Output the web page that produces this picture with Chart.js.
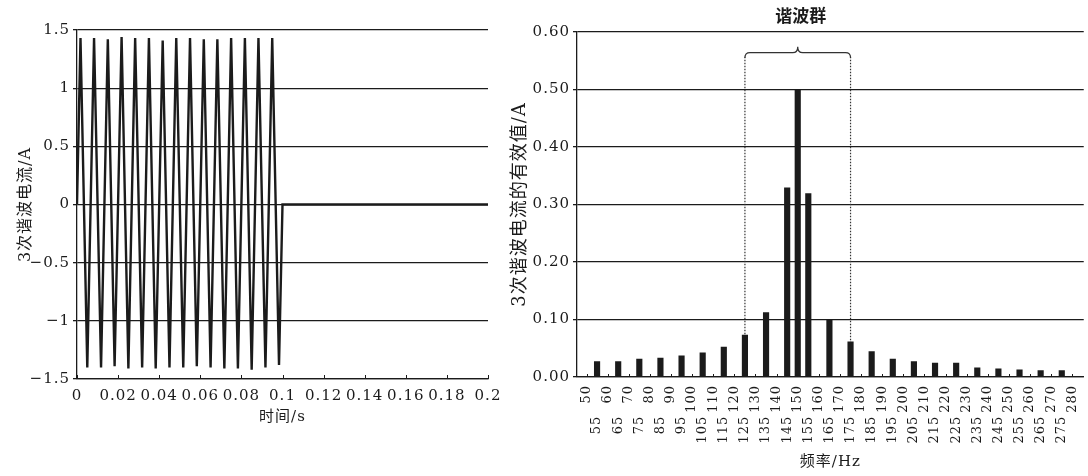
<!DOCTYPE html>
<html>
<head>
<meta charset="utf-8">
<script src="https://cdn.jsdelivr.net/npm/chart.js@4.4.1/dist/chart.umd.min.js"></script>
<style>
  html, body { margin: 0; padding: 0; background: #fff; }
  #wrap { position: relative; width: 1088px; height: 476px; overflow: hidden; background: #fff; }
  #c1 { position: absolute; left: 0; top: 0; }
  #c2 { position: absolute; left: 500px; top: 0; }
</style>
</head>
<body>
<div id="wrap">
  <canvas id="c1" width="520" height="476"></canvas>
  <canvas id="c2" width="588" height="476"></canvas>
</div>
<script>
// ---------- Left chart: 3rd harmonic current waveform ----------
const timeS = [0, 0.0017, 0.0050, 0.0083, 0.0117, 0.0150, 0.0183, 0.0217, 0.0250, 0.0283, 0.0317,
  0.0350, 0.0383, 0.0417, 0.0450, 0.0483, 0.0517, 0.0550, 0.0583, 0.0617, 0.0650,
  0.0683, 0.0717, 0.0750, 0.0783, 0.0817, 0.0850, 0.0883, 0.0917, 0.0950, 0.0983, 0.1000, 0.2000];
const currentA = [0, 1.43, -1.40, 1.43, -1.40, 1.42, -1.39, 1.44, -1.41, 1.43, -1.40,
  1.43, -1.41, 1.41, -1.40, 1.43, -1.40, 1.43, -1.39, 1.42, -1.40,
  1.42, -1.41, 1.43, -1.41, 1.43, -1.42, 1.43, -1.40, 1.43, -1.38, 0, 0];
const timeTickValues = [0, 0.02, 0.04, 0.06, 0.08, 0.1, 0.12, 0.14, 0.16, 0.18, 0.2];
const timeTickLabels = ['0', '0.02', '0.04', '0.06', '0.08', '0.1', '0.12', '0.14', '0.16', '0.18', '0.2'];
const currentTickValues = [-1.5, -1, -0.5, 0, 0.5, 1, 1.5];
const currentTickLabels = ['−1.5', '−1', '−0.5', '0', '0.5', '1', '1.5'];
const leftXTitle = '时间/s';
const leftYTitle = '3次谐波电流/A';

// ---------- Right chart: RMS spectrum ----------
const harmonicFreqs = [55, 65, 75, 85, 95, 105, 115, 125, 135, 145, 150, 155,
  165, 175, 185, 195, 205, 215, 225, 235, 245, 255, 265, 275];
const harmonicRms = [0.027, 0.027, 0.031, 0.033, 0.037, 0.042, 0.052, 0.073, 0.112, 0.329, 0.500, 0.319,
  0.100, 0.061, 0.044, 0.031, 0.027, 0.024, 0.024, 0.016, 0.014, 0.0125, 0.011, 0.011];
const freqTicks = [50, 55, 60, 65, 70, 75, 80, 85, 90, 95, 100, 105, 110, 115, 120, 125, 130, 135, 140, 145,
  150, 155, 160, 165, 170, 175, 180, 185, 190, 195, 200, 205, 210, 215, 220, 225, 230, 235, 240, 245,
  250, 255, 260, 265, 270, 275, 280];
const freqTickLabels = ['50', '55', '60', '65', '70', '75', '80', '85', '90', '95', '100', '105', '110', '115',
  '120', '125', '130', '135', '140', '145', '150', '155', '160', '165', '170', '175', '180', '185', '190',
  '195', '200', '205', '210', '215', '220', '225', '230', '235', '240', '245', '250', '255', '260', '265',
  '270', '275', '280'];
const rmsTickValues = [0, 0.1, 0.2, 0.3, 0.4, 0.5, 0.6];
const rmsTickLabels = ['0.00', '0.10', '0.20', '0.30', '0.40', '0.50', '0.60'];
const groupBounds = [125, 175];
const groupCenter = 150;
const groupLabel = '谐波群';
const rightXTitle = '频率/Hz';
const rightYTitle = '3次谐波电流的有效值/A';

// ---------- styling ----------
const INK = '#1b1b1b';
const NUM_FONT = "'DejaVu Serif', 'Noto Sans CJK SC', serif";
const TXT_FONT = "'DejaVu Serif', 'Noto Sans CJK SC', sans-serif";
const ROW_PAD = '\u00A0\u00A0\u00A0\u00A0\u00A0\u00A0';

Chart.defaults.color = INK;

const spacing = {
  id: 'spacing',
  beforeLayout(c) { c.ctx.letterSpacing = '1px'; },
  beforeDraw(c) { c.ctx.letterSpacing = '1px'; }
};

const innerTicks = {
  id: 'innerTicks',
  afterDatasetsDraw(c, args, opts) {
    const xs = c.scales.x, ctx = c.ctx, y = c.chartArea.bottom;
    ctx.save();
    ctx.strokeStyle = INK;
    ctx.lineWidth = 1;
    ctx.beginPath();
    xs.ticks.forEach(t => {
      const x = Math.round(xs.getPixelForValue(t.value)) + 0.5;
      ctx.moveTo(x, y);
      ctx.lineTo(x, y - opts.len);
    });
    ctx.stroke();
    ctx.restore();
  }
};

const bracket = {
  id: 'bracket',
  afterDatasetsDraw(c) {
    const xs = c.scales.x, ys = c.scales.y, ctx = c.ctx;
    const x1 = xs.getPixelForValue(groupBounds[0]);
    const x2 = xs.getPixelForValue(groupBounds[1]);
    const xm = xs.getPixelForValue(groupCenter);
    const yb = ys.getPixelForValue(0.564);
    const yTop1 = ys.getPixelForValue(harmonicRms[harmonicFreqs.indexOf(groupBounds[0])]);
    const yTop2 = ys.getPixelForValue(harmonicRms[harmonicFreqs.indexOf(groupBounds[1])]);
    ctx.save();
    ctx.letterSpacing = '0px';
    ctx.strokeStyle = '#333';
    ctx.lineWidth = 1.2;
    ctx.setLineDash([1.5, 1.5]);
    ctx.beginPath();
    ctx.moveTo(x1, yb + 4); ctx.lineTo(x1, yTop1);
    ctx.moveTo(x2, yb + 4); ctx.lineTo(x2, yTop2);
    ctx.stroke();
    ctx.setLineDash([]);
    ctx.beginPath();
    ctx.moveTo(x1, yb + 5);
    ctx.quadraticCurveTo(x1, yb, x1 + 5, yb);
    ctx.lineTo(xm - 5, yb);
    ctx.quadraticCurveTo(xm, yb, xm, yb - 6);
    ctx.quadraticCurveTo(xm, yb, xm + 5, yb);
    ctx.lineTo(x2 - 5, yb);
    ctx.quadraticCurveTo(x2, yb, x2, yb + 5);
    ctx.stroke();
    ctx.fillStyle = INK;
    ctx.font = "bold 17px 'Noto Sans CJK SC', sans-serif";
    ctx.textAlign = 'center';
    ctx.textBaseline = 'middle';
    ctx.fillText(groupLabel, xm + 3, 16);
    ctx.restore();
  }
};

// ---------- left chart ----------
new Chart(document.getElementById('c1'), {
  type: 'line',
  data: {
    datasets: [{
      data: timeS.map((t, i) => ({ x: t, y: currentA[i] })),
      borderColor: INK,
      borderWidth: 2.4,
      pointRadius: 0,
      tension: 0,
      fill: false
    }]
  },
  options: {
    responsive: false,
    animation: false,
    devicePixelRatio: 1,
    layout: { padding: { left: 10, right: 32, top: 30, bottom: 45 } },
    plugins: { legend: { display: false }, tooltip: { enabled: false }, innerTicks: { len: 4 } },
    scales: {
      x: {
        type: 'linear', min: 0, max: 0.2,
        afterBuildTicks: s => { s.ticks = timeTickValues.map(v => ({ value: v })); },
        afterFit: s => { s.height = 52; },
        grid: { display: false },
        border: { display: true, color: INK, width: 1.3 },
        ticks: {
          padding: 0, maxRotation: 0, autoSkip: false, color: INK,
          font: { family: NUM_FONT, size: 15 },
          callback: (v, i) => timeTickLabels[i]
        },
        title: { display: true, text: leftXTitle, color: INK,
          font: { family: TXT_FONT, size: 15 }, padding: { top: 0, bottom: 5 } }
      },
      y: {
        min: -1.5, max: 1.5,
        afterBuildTicks: s => { s.ticks = currentTickValues.map(v => ({ value: v })); },
        afterFit: s => { s.width = 67; },
        grid: { color: INK, lineWidth: 1.3, drawTicks: true, tickLength: 4 },
        border: { display: true, color: INK, width: 1.3 },
        ticks: {
          padding: 3, color: INK, font: { family: NUM_FONT, size: 15 },
          callback: (v, i) => currentTickLabels[i]
        },
        title: { display: true, text: leftYTitle, color: INK,
          font: { family: TXT_FONT, size: 16 }, padding: { top: 6, bottom: 4 } }
      }
    }
  },
  plugins: [spacing, innerTicks]
});

// ---------- right chart ----------
new Chart(document.getElementById('c2'), {
  type: 'bar',
  data: {
    datasets: [{
      data: harmonicFreqs.map((f, i) => ({ x: f, y: harmonicRms[i] })),
      backgroundColor: INK,
      borderWidth: 0,
      barThickness: 5.5
    }]
  },
  options: {
    responsive: false,
    animation: false,
    devicePixelRatio: 1,
    layout: { padding: { left: 6, right: 3, top: 32, bottom: 4 } },
    plugins: { legend: { display: false }, tooltip: { enabled: false }, innerTicks: { len: 3 } },
    scales: {
      x: {
        type: 'linear', min: 45.5, max: 285.4, offset: false,
        afterBuildTicks: s => { s.ticks = freqTicks.map(v => ({ value: v })); },
        afterFit: s => { s.height = 95; },
        grid: { display: false },
        border: { display: true, color: INK, width: 1.3 },
        ticks: {
          autoSkip: false, minRotation: 90, maxRotation: 90, padding: 0, color: INK,
          font: { family: NUM_FONT, size: 13 },
          callback: (v, i) => (i % 2 ? freqTickLabels[i] + ROW_PAD : freqTickLabels[i])
        },
        title: { display: true, text: rightXTitle, color: INK,
          font: { family: TXT_FONT, size: 15 }, padding: { top: 0, bottom: 1 } }
      },
      y: {
        min: 0, max: 0.6,
        afterBuildTicks: s => { s.ticks = rmsTickValues.map(v => ({ value: v })); },
        afterFit: s => { s.width = 71; },
        grid: { color: INK, lineWidth: 1.3, drawTicks: true, tickLength: 4 },
        border: { display: true, color: INK, width: 1.3 },
        ticks: {
          padding: 3, color: INK, font: { family: NUM_FONT, size: 15 },
          callback: (v, i) => rmsTickLabels[i]
        },
        title: { display: true, text: rightYTitle, color: INK,
          font: { family: TXT_FONT, size: 18 }, padding: { top: 4, bottom: 4 } }
      }
    }
  },
  plugins: [spacing, innerTicks, bracket]
});
</script>
</body>
</html>
